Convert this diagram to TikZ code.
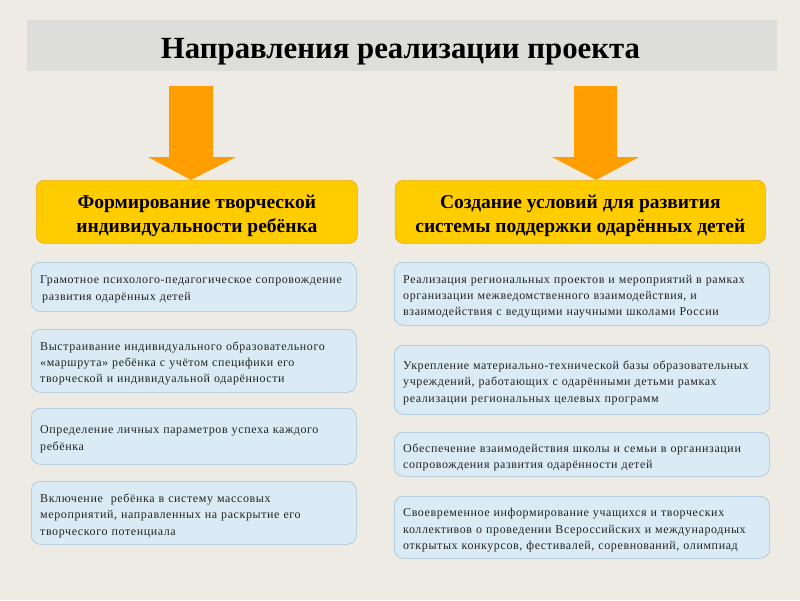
\documentclass[tikz,border=0pt]{standalone}
\usepackage{fontspec}
\setmainfont{Liberation Serif}
\newfontfamily\spacedserif[LetterSpace=5]{Liberation Serif}
\definecolor{bgc}{RGB}{238,234,228}
\definecolor{titlebar}{RGB}{221,221,219}
\definecolor{arroworange}{RGB}{255,158,0}
\definecolor{goldfill}{RGB}{255,204,0}
\definecolor{goldedge}{RGB}{232,170,20}
\definecolor{bluefill}{RGB}{218,235,245}
\definecolor{blueedge}{RGB}{160,195,220}
\definecolor{txtgray}{RGB}{35,35,35}
\begin{document}
\begin{tikzpicture}[x=1pt,y=-1pt,
  bluebox/.style={draw=blueedge, fill=bluefill, rounded corners=9pt, line width=0.6pt,
    anchor=north west, inner sep=0pt},
  bluetext/.style={anchor=west, inner sep=0pt, align=left,
    font=\spacedserif\fontsize{12}{16.3}\selectfont, text=txtgray},
  goldbox/.style={draw=goldedge, fill=goldfill, rounded corners=8pt, line width=0.6pt,
    anchor=north west, inner sep=0pt},
  goldtext/.style={inner sep=0pt, align=center,
    font=\fontsize{19.5}{24}\selectfont\bfseries, text=black},
  blockarrow/.style={fill=arroworange, draw=none}]
\fill[bgc] (0,0) rectangle (800,600);
\useasboundingbox (0,0) rectangle (800,600);
% title
\node[fill=titlebar, anchor=north west, minimum width=750pt, minimum height=51pt, inner sep=0pt] (titlebar) at (27,20) {};
\node[font=\fontsize{30.8}{32}\selectfont\bfseries, anchor=base] (title) at (400.5,58) {Направления реализации проекта};
% gold boxes
\node[goldbox, minimum width=321pt, minimum height=63pt] (gl) at (36,180) {};
\node[goldtext] (gltext) at ([yshift=-4pt]gl.center) {Формирование творческой\\индивидуальности ребёнка};
\node[goldbox, minimum width=370pt, minimum height=63pt] (gr) at (395,180) {};
\node[goldtext] (grtext) at ([yshift=-4pt]gr.center) {Создание условий для развития\\системы поддержки одарённых детей};
% arrows from title bar to the gold boxes
\fill[blockarrow] (169,86) -- (213,86) -- (213,157) -- (236,157) -- (gl.north -| 191,0) -- (148,157) -- (169,157) -- cycle;
\fill[blockarrow] (574,86) -- (617,86) -- (617,157) -- (639,157) -- (gr.north -| 596,0) -- (552,157) -- (574,157) -- cycle;
% left column
\node[bluebox, minimum width=325pt, minimum height=49pt] (l1) at (31,262) {};
\node[bluetext, text width=309pt] (l1t) at ([xshift=9pt,yshift=-2.5pt]l1.west)
  {Грамотное психолого-педагогическое сопровождение\\\hspace{2pt}развития одарённых детей};
\node[bluebox, minimum width=325pt, minimum height=63pt] (l2) at (31,329) {};
\node[bluetext, text width=309pt] (l2t) at ([xshift=9pt,yshift=-2.5pt]l2.west)
  {Выстраивание индивидуального образовательного\\«маршрута» ребёнка с учётом специфики его\\творческой и индивидуальной одарённости};
\node[bluebox, minimum width=325pt, minimum height=56pt] (l3) at (31,408) {};
\node[bluetext, text width=309pt] (l3t) at ([xshift=9pt,yshift=-3pt]l3.west)
  {Определение личных параметров успеха каждого\\ребёнка};
\node[bluebox, minimum width=325pt, minimum height=63pt] (l4) at (31,481) {};
\node[bluetext, text width=309pt] (l4t) at ([xshift=9pt,yshift=-3pt]l4.west)
  {Включение \ ребёнка в систему массовых\\мероприятий, направленных на раскрытие его\\творческого потенциала};
% right column
\node[bluebox, minimum width=375pt, minimum height=63pt] (r1) at (394,262) {};
\node[bluetext, text width=359pt] (r1t) at ([xshift=9pt,yshift=-3pt]r1.west)
  {Реализация региональных проектов и мероприятий в рамках\\организации межведомственного взаимодействия, и\\взаимодействия с ведущими научными школами России};
\node[bluebox, minimum width=375pt, minimum height=69pt] (r2) at (394,345) {};
\node[bluetext, text width=359pt] (r2t) at ([xshift=9pt,yshift=-3pt]r2.west)
  {Укрепление материально-технической базы образовательных\\учреждений, работающих с одарёнными детьми рамках\\реализации региональных целевых программ};
\node[bluebox, minimum width=375pt, minimum height=44pt] (r3) at (394,432) {};
\node[bluetext, text width=359pt] (r3t) at ([xshift=9pt,yshift=-3pt]r3.west)
  {Обеспечение взаимодействия школы и семьи в организации\\сопровождения развития одарённости детей};
\node[bluebox, minimum width=375pt, minimum height=62pt] (r4) at (394,496) {};
\node[bluetext, text width=359pt] (r4t) at ([xshift=9pt,yshift=-3pt]r4.west)
  {Своевременное информирование учащихся и творческих\\коллективов о проведении Всероссийских и международных\\открытых конкурсов, фестивалей, соревнований, олимпиад};
\end{tikzpicture}
\end{document}
